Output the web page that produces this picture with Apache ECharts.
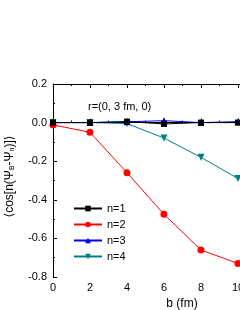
<!DOCTYPE html>
<html><head><meta charset="utf-8">
<script src="https://cdn.jsdelivr.net/npm/echarts@6/dist/echarts.min.js"></script>
<style>html,body{margin:0;padding:0;background:#fff}#c{width:240px;height:310px}</style>
</head><body><div id="c"></div>
<script>
var bValues = [0, 2, 4, 6, 8, 10];
var n1 = [0.0, 0.0, 0.005, -0.007, 0.0, 0.0];
var n2 = [-0.012, -0.05, -0.26, -0.475, -0.66, -0.73];
var n3 = [0.0, 0.0, 0.004, 0.01, 0.0, 0.005];
var n4 = [0.0, 0.0, -0.005, -0.08, -0.18, -0.29];
var seriesNames = ['n=1', 'n=2', 'n=3', 'n=4'];
var seriesColors = ['#000000', '#ff0000', '#0000ff', '#008080'];
var seriesSymbols = ['rect', 'circle', 'triangle', 'path://M0,0 L10,0 L5,9 Z'];
var allData = [n1, n2, n3, n4];
var FONT = 'Liberation Sans, Arial, DejaVu Sans, sans-serif';

function pairs(arr){ return bValues.map(function(b,i){return [b, arr[i]];}); }

var chart = echarts.init(document.getElementById('c'), null, {renderer:'canvas'});
var series = allData.map(function(d,i){
  return {
    name: seriesNames[i], type:'line', data: pairs(d), clip:false,
    symbol: seriesSymbols[i], symbolSize: i===0?6:7,
    lineStyle:{color:seriesColors[i], width:1},
    itemStyle:{color:seriesColors[i]},
    z: 10 - i, animation:false
  };
});
chart.setOption({
  animation:false,
  grid:{left:53, top:84, bottom:33, right:-35, outerBoundsMode:'none', containLabel:false},
  title:{text:'r=(0, 3 fm, 0)', left:83, top:96, textStyle:{fontFamily:FONT, fontSize:11, fontWeight:'normal', color:'#000'}},
  legend:{orient:'vertical', left:68, top:198, itemWidth:28, itemHeight:7, itemGap:5,
    data: seriesNames, textStyle:{fontFamily:FONT, fontSize:11, color:'#000'}},
  xAxis:[{type:'value', min:0, max:12, interval:2, position:'bottom',
    name:'b (fm)', nameLocation:'middle', nameGap:15,
    nameTextStyle:{fontFamily:FONT, fontSize:12, color:'#000', padding:[0,0,0,36]},
    axisLine:{lineStyle:{color:'#000', width:1}},
    axisTick:{inside:true, length:4, lineStyle:{color:'#000'}},
    minorTick:{show:true, splitNumber:2, length:2, lineStyle:{color:'#000'}},
    axisLabel:{fontFamily:FONT, fontSize:11, color:'#000', margin:5},
    splitLine:{show:false}},
   {type:'value', min:0, max:12, interval:2, position:'top',
    axisLine:{lineStyle:{color:'#000', width:1}},
    axisTick:{inside:true, length:4, lineStyle:{color:'#000'}},
    minorTick:{show:true, splitNumber:2, length:2, lineStyle:{color:'#000'}},
    axisLabel:{show:false}, splitLine:{show:false}}],
  yAxis:{type:'value', min:-0.8, max:0.2, interval:0.2,
    name:'⟨cos[n(Ψ{sub|B}-Ψ{sub|n})]⟩', nameLocation:'middle', nameGap:37, nameRotate:90,
    nameTextStyle:{fontFamily:FONT, fontSize:12, color:'#000', padding:[0,0,0,8],
      rich:{sub:{fontFamily:FONT, fontSize:7, color:'#000', verticalAlign:'bottom', padding:[6,0,0,0]}}},
    axisLine:{show:true, lineStyle:{color:'#000', width:1}},
    axisTick:{inside:true, length:4, lineStyle:{color:'#000'}},
    minorTick:{show:true, splitNumber:2, length:2, lineStyle:{color:'#000'}},
    axisLabel:{fontFamily:FONT, fontSize:11, color:'#000', margin:6,
      formatter:function(v){return v.toFixed(1);}},
    splitLine:{show:false}},
  series: series
});
</script></body></html>
